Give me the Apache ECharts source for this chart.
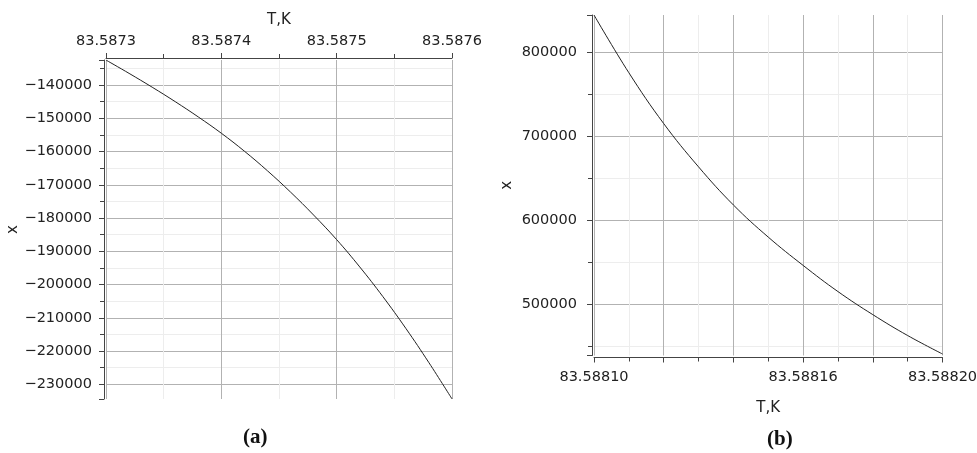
<!DOCTYPE html>
<html>
<head>
<meta charset="utf-8">
<script src="https://cdn.jsdelivr.net/npm/echarts@6/dist/echarts.min.js"></script>
<style>
  html, body { margin: 0; padding: 0; background: #fff; }
  #chart { width: 977px; height: 453px; }
</style>
</head>
<body>
<div id="chart"></div>
<script>
// panel (a): temperature vs x
const tempA = [83.58730, 83.58732, 83.58734, 83.58736, 83.58738, 83.58740, 83.58742, 83.58744,
  83.58746, 83.58748, 83.58750, 83.58752, 83.58754, 83.58756, 83.58758, 83.58760]
const xA = [-132500, -136500, -140650, -145000, -149600, -154500, -159900, -165800,
  -172200, -179100, -186500, -194700, -203600, -213200, -223500, -234400]

// panel (b)
const tempB = [83.58810, 83.58811, 83.58812, 83.58813, 83.58814, 83.58815, 83.58816,
  83.58817, 83.58818, 83.58819, 83.58820]
const xB = [844400, 775600, 715000, 663400, 618000, 579700, 546000, 514800, 487300, 462400, 440400]

// only these bottom labels are printed in (b)
const tickLabelsB = ['83.58810', '83.58816', '83.58820']

const font = 'DejaVu Sans'
const axisColor = '#444'
const majorGrid = '#b2b2b2'
const minorGrid = '#ededed'

const toPairs = (xs, ys) => xs.map((x, i) => [x, ys[i]])

const baseAxis = {
  type: 'value',
  offset: 2,
  axisLine: { show: true, lineStyle: { color: axisColor, width: 1 } },
  axisTick: { show: true, length: 5, lineStyle: { color: axisColor } },
  minorTick: { show: true, splitNumber: 2, length: 4, lineStyle: { color: axisColor } },
  splitLine: { show: true, lineStyle: { color: majorGrid, width: 1 } },
  minorSplitLine: { show: true, lineStyle: { color: minorGrid, width: 1 } },
  nameTextStyle: { fontFamily: font, fontSize: 15, color: '#222' }
}

const labelStyle = { fontFamily: font, fontSize: 14.5, color: '#222' }

const option = {
  animation: false,
  backgroundColor: '#fff',
  grid: [
    { left: 106, top: 60, width: 346, height: 339, outerBoundsMode: 'none' },
    { left: 594, top: 15, width: 348.5, height: 340.5, outerBoundsMode: 'none' }
  ],
  xAxis: [
    {
      ...baseAxis,
      gridIndex: 0,
      position: 'top',
      min: 83.5873,
      max: 83.5876,
      splitNumber: 3,
      name: 'T,K',
      nameLocation: 'middle',
      nameGap: 30,
      axisLabel: { ...labelStyle, margin: 9, formatter: (v) => v.toFixed(4) }
    },
    {
      ...baseAxis,
      gridIndex: 1,
      position: 'bottom',
      min: 83.5881,
      max: 83.5882,
      splitNumber: 5,
      name: 'T,K',
      nameLocation: 'middle',
      nameGap: 43,
      axisLabel: {
        ...labelStyle,
        margin: 12,
        showMinLabel: true,
        showMaxLabel: true,
        formatter: (v) => {
          const s = v.toFixed(5)
          return tickLabelsB.includes(s) ? s : ''
        }
      }
    }
  ],
  yAxis: [
    {
      ...baseAxis,
      gridIndex: 0,
      min: -234420,
      max: -132480,
      splitNumber: 10,
      name: 'x',
      nameLocation: 'middle',
      nameGap: 80,
      splitLine: { show: true, showMinLine: false, showMaxLine: false, lineStyle: { color: majorGrid } },
      axisLabel: {
        ...labelStyle,
        margin: 12,
        formatter: (v) => (Math.round(v) % 10000 === 0 ? '\u2212' + Math.abs(Math.round(v)) : '')
      }
    },
    {
      ...baseAxis,
      gridIndex: 1,
      min: 438600,
      max: 844400,
      splitNumber: 4,
      name: 'x',
      nameLocation: 'middle',
      nameGap: 77,
      splitLine: { show: true, showMinLine: false, showMaxLine: false, lineStyle: { color: majorGrid } },
      axisLabel: {
        ...labelStyle,
        margin: 15,
        formatter: (v) => (Math.round(v) % 100000 === 0 ? String(Math.round(v)) : '')
      }
    }
  ],
  series: [
    {
      type: 'line',
      xAxisIndex: 0,
      yAxisIndex: 0,
      data: toPairs(tempA, xA),
      smooth: 0.4,
      showSymbol: false,
      lineStyle: { color: '#222', width: 1 }
    },
    {
      type: 'line',
      xAxisIndex: 1,
      yAxisIndex: 1,
      data: toPairs(tempB, xB),
      smooth: 0.4,
      showSymbol: false,
      lineStyle: { color: '#222', width: 1 }
    }
  ],
  graphic: [
    {
      type: 'text',
      left: 243,
      top: 427,
      style: { text: '(a)', font: 'bold 21px "Liberation Serif"', fill: '#111' }
    },
    {
      type: 'text',
      left: 767,
      top: 429,
      style: { text: '(b)', font: 'bold 21px "Liberation Serif"', fill: '#111' }
    }
  ]
}

const chart = echarts.init(document.getElementById('chart'), null, { renderer: 'canvas' })
chart.setOption(option)
</script>
</body>
</html>
